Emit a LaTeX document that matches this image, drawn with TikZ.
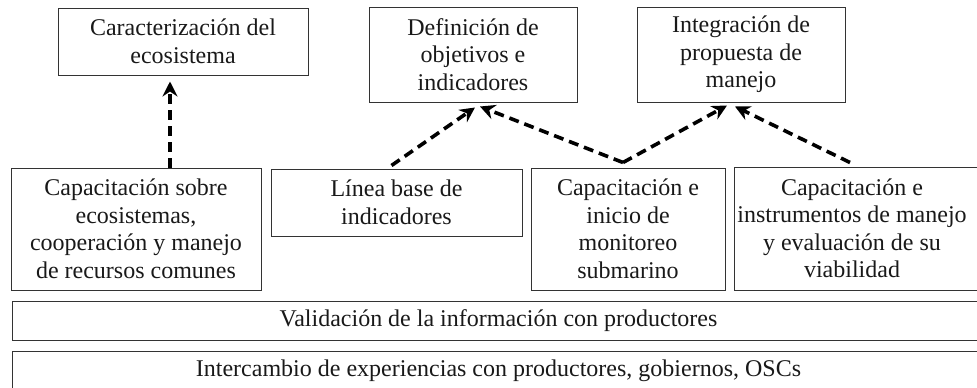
\documentclass[tikz,border=0pt]{standalone}
\usepackage{fontspec}
\setmainfont{Liberation Serif}
\usetikzlibrary{arrows.meta}
\begin{document}
\begin{tikzpicture}[x=1pt,y=-1pt,
  box/.style={draw=black!80, line width=1pt, inner sep=0pt, align=center, font=\fontsize{24}{27.5}\selectfont, text=black!90},
  txt/.style={inner sep=0pt, align=center, font=\fontsize{24}{27.5}\selectfont, text=black!90},
  flow/.style={draw=black, line width=3.6pt, dash pattern=on 10pt off 6pt, -{Stealth[length=15pt,width=15pt,inset=5pt]}}]
\useasboundingbox (0,0) rectangle (977,388);
\clip (0,0) rectangle (977,388);
% top row
\node[box, minimum width=250pt, minimum height=67pt] (car) at (183,41.5) {Caracterización del\\ecosistema};
\node[box, minimum width=208pt, minimum height=95pt] (def) at (473,54.5) {Definición de\\objetivos e\\indicadores};
\node[box, minimum width=208pt, minimum height=95pt] (int) at (741,54.5) {Integración de\\propuesta de\\manejo};
% middle row
\node[box, minimum width=250pt, minimum height=122pt] (b1) at (136,229) {Capacitación sobre\\ecosistemas,\\cooperación y manejo\\de recursos comunes};
\node[box, minimum width=251pt, minimum height=67pt] (b2) at (396.5,202.5) {Línea base de\\indicadores};
\node[box, minimum width=194pt, minimum height=122pt] (b3) at (628,229) {Capacitación e\\inicio de\\monitoreo\\submarino};
\node[box, minimum width=251pt, minimum height=123pt] (b4) at (859.5,228.5) {};
\node[txt] (b4t) at (852,228.5) {Capacitación e\\instrumentos de manejo\\y evaluación de su\\viabilidad};
% bottom bars
\node[box, minimum width=973pt, minimum height=39pt] (val) at (498.5,320.5) {Validación de la información con productores};
\node[box, minimum width=973pt, minimum height=39pt] (inter) at (498.5,370.5) {Intercambio de experiencias con productores, gobiernos, OSCs};
% connectors
\draw[flow] ([xshift=34pt]b1.north) -- ([xshift=-13pt,yshift=-6pt]car.south);
\draw[flow] ([xshift=-5pt,yshift=3pt]b2.north) -- ([xshift=2pt,yshift=-5pt]def.south);
\draw[flow] ([xshift=-5pt,yshift=5pt]b3.north) -- ([xshift=7pt,yshift=-4pt]def.south);
\draw[flow] ([xshift=-5pt,yshift=5pt]b3.north) -- ([xshift=-14pt,yshift=-3pt]int.south);
\draw[flow] ([xshift=-9.5pt,yshift=4pt]b4.north) -- ([xshift=-6pt,yshift=-4pt]int.south);
\end{tikzpicture}
\end{document}
